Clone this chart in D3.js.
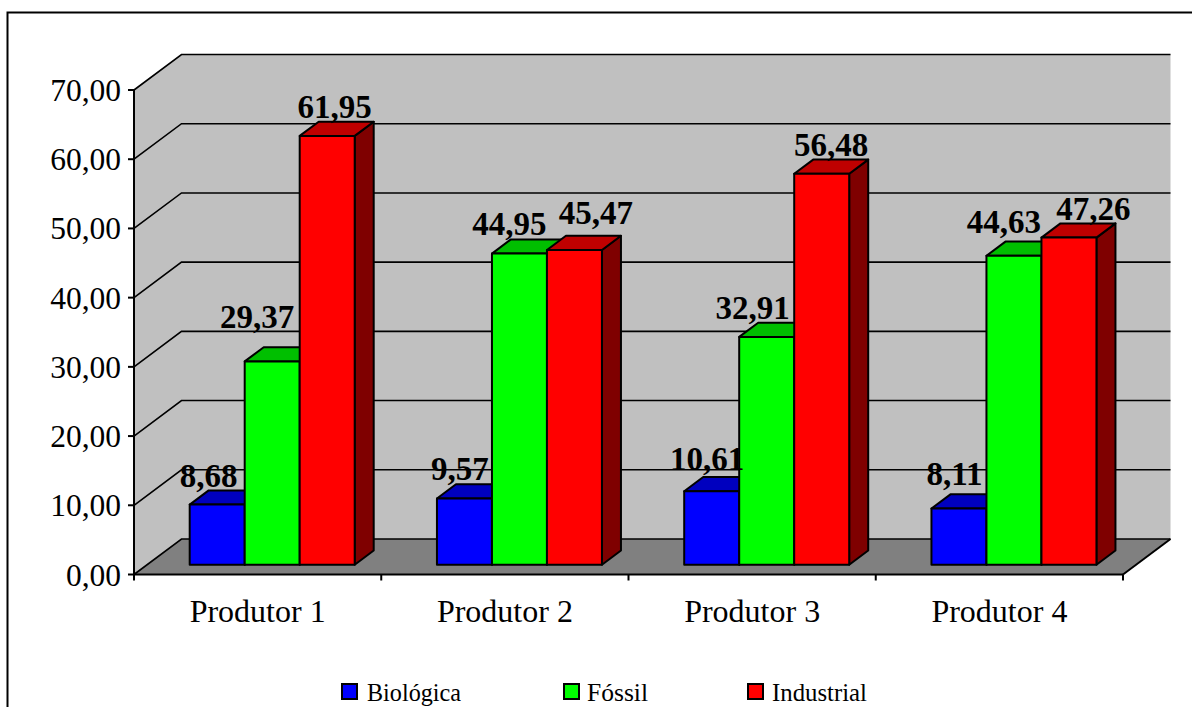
<!DOCTYPE html>
<html><head><meta charset="utf-8">
<script src="https://cdn.jsdelivr.net/npm/d3@7"></script>
<style>html,body{margin:0;padding:0;background:#fff;overflow:hidden}svg{display:block}text{font-family:"Liberation Serif",serif;fill:#000}</style>
</head><body><div id="c"></div>
<script>
const categories=["Produtor 1","Produtor 2","Produtor 3","Produtor 4"];
const seriesNames=["Biológica","Fóssil","Industrial"];
const biologica=[8.68,9.57,10.61,8.11];
const fossil=[29.37,44.95,32.91,44.63];
const industrial=[61.95,45.47,56.48,47.26];
const yTicks=[0,10,20,30,40,50,60,70];
const W=1192,H=707;
const svg=d3.select("#c").append("svg").attr("width",W).attr("height",H);
const fmt=v=>v.toFixed(2).replace(".",",");
const front={l:134,r:1123,b:574.5,t:90};
const depth={x:47.5,y:-35.5};
const barOff={x:13.2,y:-9.8};
const barDepth={x:19,y:-14.2};
const y=d3.scaleLinear().domain([0,70]).range([front.b,front.t]);
const x0=d3.scaleBand().domain(categories).range([front.l,front.r]);
const x1=d3.scaleBand().domain(seriesNames).range([42.5,207.5]);
const fills=[["#0000ff","#0000bf","#00007f"],["#00ff00","#00bf00","#007f00"],["#ff0000","#bf0000","#7f0000"]];
const values=[biologica,fossil,industrial];
// label placement offsets: [dx from bar centre, baseline above bar top], series by category
const labelNudge=[
  [[-8.5,-18],[-4.5,-18],[-4.5,-21],[-4.5,-24]],
  [[-15,-33],[-10,-19],[-14,-18],[-10,-23]],
  [[7.5,-18],[21.5,-26],[9.5,-18],[24.5,-18]]
];
svg.append("rect").attr("x",7.5).attr("y",12.5).attr("width",1300).attr("height",900).attr("fill","#fff").attr("stroke","#000").attr("stroke-width",2);
const pts=a=>a.map(p=>p.join(",")).join(" ");
const stroke={stroke:"#000","stroke-width":2,"stroke-linejoin":"round"};
function poly(g,a,f){const p=g.append("polygon").attr("points",pts(a)).attr("fill",f);Object.entries(stroke).forEach(([k,v])=>p.attr(k,v));return p;}
const g=svg.append("g");
// walls
g.append("polygon").attr("points",pts([[front.l,front.t],[front.l+depth.x,front.t+depth.y],[front.r+depth.x,front.t+depth.y],[front.r+depth.x,front.b+depth.y],[front.l+depth.x,front.b+depth.y],[front.l,front.b]])).attr("fill","#c0c0c0");
g.append("polygon").attr("points",pts([[front.l,front.b],[front.l+depth.x,front.b+depth.y],[front.r+depth.x,front.b+depth.y],[front.r,front.b]])).attr("fill","#808080");
// gridlines
yTicks.forEach(t=>{
  g.append("polyline").attr("points",pts([[front.l,y(t)],[front.l+depth.x,y(t)+depth.y],[front.r+depth.x,y(t)+depth.y]])).attr("fill","none").attr("stroke","#000").attr("stroke-width",1.6);
});
g.append("line").attr("x1",front.l).attr("x2",front.l).attr("y1",front.t).attr("y2",front.b).attr("stroke","#000").attr("stroke-width",2);
g.append("line").attr("x1",front.r).attr("y1",front.b).attr("x2",front.r+depth.x).attr("y2",front.b+depth.y).attr("stroke","#000").attr("stroke-width",2);
g.append("line").attr("x1",front.l).attr("x2",front.r).attr("y1",front.b).attr("y2",front.b).attr("stroke","#000").attr("stroke-width",2);
// y axis
yTicks.forEach(t=>{
  g.append("line").attr("x1",front.l-6).attr("x2",front.l).attr("y1",y(t)).attr("y2",y(t)).attr("stroke","#000").attr("stroke-width",2);
  g.append("text").attr("x",front.l-13).attr("y",y(t)+11).attr("text-anchor","end").attr("font-size",31.5).text(fmt(t));
});
// x axis
d3.range(categories.length+1).forEach(i=>{
  const px=front.l+i*x0.bandwidth();
  g.append("line").attr("x1",px).attr("x2",px).attr("y1",front.b).attr("y2",front.b+6).attr("stroke","#000").attr("stroke-width",2);
});
categories.forEach(c=>{
  g.append("text").attr("x",x0(c)+x0.bandwidth()/2).attr("y",622).attr("text-anchor","middle").attr("font-size",32).text(c);
});
// bars
const y0=y(0);
categories.forEach((c,i)=>{
  seriesNames.forEach((s,j)=>{
    const v=values[j][i];
    const xl=x0(c)+x1(s)+barOff.x, xr=xl+x1.bandwidth();
    const yb=y0+barOff.y, yt=y(v)+barOff.y;
    const d=barDepth;
    poly(g,[[xr,yt],[xr+d.x,yt+d.y],[xr+d.x,yb+d.y],[xr,yb]],fills[j][2]);
    poly(g,[[xl,yt],[xl+d.x,yt+d.y],[xr+d.x,yt+d.y],[xr,yt]],fills[j][1]);
    poly(g,[[xl,yt],[xr,yt],[xr,yb],[xl,yb]],fills[j][0]);
  });
});
// labels
categories.forEach((c,i)=>{
  seriesNames.forEach((s,j)=>{
    const v=values[j][i], n=labelNudge[j][i];
    const xl=x0(c)+x1(s)+barOff.x;
    g.append("text").attr("x",xl+x1.bandwidth()/2+n[0]).attr("y",y(v)+barOff.y+n[1]).attr("text-anchor","middle").attr("font-size",33).attr("font-weight","bold").text(fmt(v));
  });
});
// legend
const legendX=[342,564,748], legendTextX=[367,587,772], legendTextW=[94,61,95];
seriesNames.forEach((s,j)=>{
  g.append("rect").attr("x",legendX[j]).attr("y",684).attr("width",15).attr("height",15).attr("fill",fills[j][0]).attr("stroke","#000").attr("stroke-width",2);
  g.append("text").attr("x",legendTextX[j]).attr("y",701).attr("font-size",26).attr("textLength",legendTextW[j]).attr("lengthAdjust","spacingAndGlyphs").text(s);
});
</script></body></html>
